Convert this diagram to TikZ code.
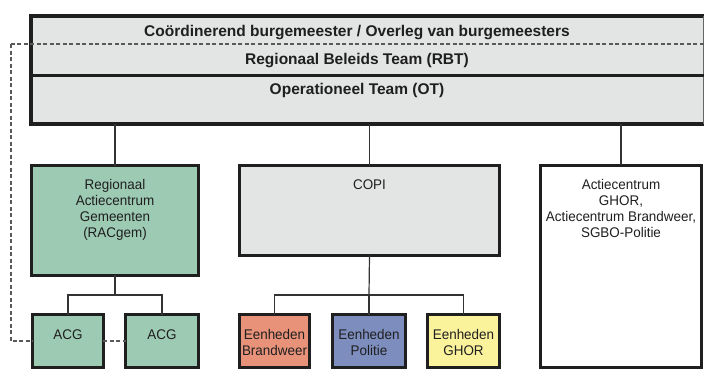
\documentclass[tikz,border=0pt]{standalone}
\usepackage{fontspec}
\setmainfont{Liberation Sans}
\newfontfamily\bodyfont[FakeStretch=0.96]{Liberation Sans}
\begin{document}
\begin{tikzpicture}[x=1pt,y=-1pt,
  boxbase/.style={rectangle, inner sep=0pt, outer sep=0pt, draw=black!88, line width=3.4pt},
  graybox/.style={boxbase, fill=boxgray},
  greenbox/.style={boxbase, fill=boxgreen},
  lbl/.style={inner sep=0pt, align=center, text=black!88, font=\bodyfont\fontsize{14}{16}\selectfont},
  hdr/.style={inner sep=0pt, anchor=base, text=black!88, font=\fontsize{15.5}{16}\selectfont\bfseries},
  conn/.style={draw=black!80, line width=1.2pt},
  dashconn/.style={draw=black!65, line width=1.2pt, dash pattern=on 4pt off 2.5pt}
]
\definecolor{boxgray}{HTML}{E3E4E4}
\definecolor{boxgreen}{HTML}{9DCAB2}
\definecolor{boxorange}{HTML}{E9927A}
\definecolor{boxblue}{HTML}{7C8DBE}
\definecolor{boxyellow}{HTML}{FBF29C}
\useasboundingbox (0,0) rectangle (705,376);
\fill[white] (0,0) rectangle (705,376);

% top block
\node[rectangle, inner sep=0pt, outer sep=0pt, fill=boxgray, minimum width=672.5pt, minimum height=108pt] (top) at (367.25,70) {};
\draw[black!88, line width=3.4pt] (top.north east) -- (top.north west) -- (top.south west) -- (top.south east);
\draw[black!60, line width=1.2pt] (top.north east) -- (top.south east);
\coordinate (sepl) at (31,75.5);
\draw[black!88, line width=3.6pt] (sepl) -- (sepl -| top.east);
\coordinate (dashstart) at (11,44);
\path[dashconn] (top.east |- dashstart) -- (dashstart);

\node[hdr] (coord) at (357,36.5) {Coördinerend burgemeester / Overleg van burgemeesters};
\node[hdr] (rbt) at (357,64.5) {Regionaal Beleids Team (RBT)};
\node[hdr] (ot) at (357,94.5) {Operationeel Team (OT)};

% second level
\node[greenbox, minimum width=166.5pt, minimum height=109.5pt] (rac) at (115,220.5) {};
\node[lbl, anchor=north] (ractxt) at (115,179.5) {Regionaal\\Actiecentrum\\Gemeenten\\(RACgem)};

\node[graybox, minimum width=259.5pt, minimum height=89.5pt] (copi) at (369.5,210.5) {};
\node[lbl, anchor=north] (copitxt) at (369.5,179.5) {COPI};

\node[boxbase, fill=white, line width=2.6pt, minimum width=161.5pt, minimum height=202.5pt] (ac) at (621,266.5) {};
\node[lbl, anchor=north] (actxt) at (621,179.5) {Actiecentrum\\GHOR,\\Actiecentrum Brandweer,\\SGBO-Politie};

% third level
\node[greenbox, minimum width=70.5pt, minimum height=52.5pt] (acga) at (68,341) {};
\node[lbl] (acgatxt) at (68,335) {ACG};
\node[greenbox, minimum width=72.5pt, minimum height=52.5pt] (acgb) at (162,341) {};
\node[lbl] (acgbtxt) at (162,335) {ACG};

\node[boxbase, fill=boxorange, minimum width=69.5pt, minimum height=52.5pt] (eb) at (274.5,341) {};
\node[lbl, anchor=north] (ebtxt) at (274.5,329.5) {Eenheden\\Brandweer};
\node[boxbase, fill=boxblue, minimum width=72.5pt, minimum height=52.5pt] (ep) at (369,341) {};
\node[lbl, anchor=north] (eptxt) at (369,329.5) {Eenheden\\Politie};
\node[boxbase, fill=boxyellow, minimum width=71.5pt, minimum height=52.5pt] (eg) at (463.5,341) {};
\node[lbl, anchor=north] (egtxt) at (463.5,329.5) {Eenheden\\GHOR};

% connectors
\path[conn] (top.south -| rac.north) -- (rac.north);
\path[conn] (top.south -| copi.north) -- (copi.north);
\path[conn] (top.south -| ac.north) -- (ac.north);

\coordinate (racj) at (115,295);
\path[conn] (rac.south) -- (racj);
\path[conn] (acga.north) |- (racj) -| (acgb.north);

\coordinate (copij) at (369,295);
\path[conn] (copi.south) -- (copij);
\path[conn] (eb.north) |- (copij) -| (eg.north);
\path[conn] (copij) -- (ep.north);

% dashed links
\path[dashconn] (dashstart) |- (acga.west);
\path[dashconn] (acga.east) -- (acgb.west);
\end{tikzpicture}
\end{document}
